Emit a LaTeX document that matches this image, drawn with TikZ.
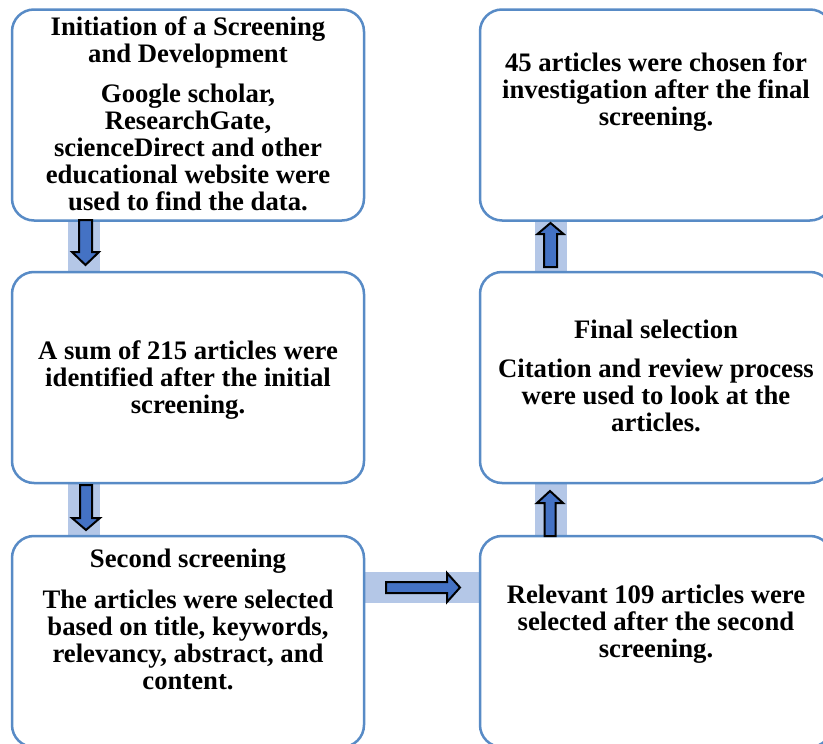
\documentclass[tikz,border=0pt]{standalone}
\usepackage{fontspec}
\setmainfont{Liberation Serif}
\usetikzlibrary{calc}
\definecolor{boxblue}{RGB}{88,139,198}
\definecolor{bandblue}{RGB}{180,199,231}
\definecolor{arrowblue}{RGB}{68,114,196}
\newcommand\myblockarrow[6]{% #1 centre, #2 rotation, #3 length, #4 half shaft, #5 half head, #6 head length
  \draw[barrow,shift={(#1)},rotate=#2]
    ({-(#3)/2},{-(#4)}) -- ({(#3)/2-(#6)},{-(#4)}) -- ({(#3)/2-(#6)},{-(#5)})
    -- ({(#3)/2},0) -- ({(#3)/2-(#6)},{#5}) -- ({(#3)/2-(#6)},{#4}) -- ({-(#3)/2},{#4}) -- cycle;}
\begin{document}
\begin{tikzpicture}[x=1pt,y=-1pt,
  stage/.style={draw=boxblue,line width=2.5pt,rounded corners=22pt,fill=white,
    minimum width=352pt,minimum height=211pt,inner sep=0pt},
  txt/.style={font=\bfseries\fontsize{26.7}{27}\selectfont,align=center,inner sep=0pt,anchor=base},
  band/.style={fill=bandblue,draw=none,inner sep=0pt},
  barrow/.style={fill=arrowblue,draw=black,line width=2pt,line join=miter}]
\useasboundingbox (0,0) rectangle (823,744);
\clip (0,0) rectangle (823,744);
% bands
\node[band,minimum width=32pt,minimum height=54pt] (band1) at (84,246) {};
\node[band,minimum width=32pt,minimum height=54pt] (band2) at (84,509.5) {};
\node[band,minimum width=118pt,minimum height=31pt] (band3) at (422,587.5) {};
\node[band,minimum width=32pt,minimum height=54pt] (band4) at (551,246) {};
\node[band,minimum width=32pt,minimum height=54pt] (band5) at (551,509.5) {};
% boxes
\node[stage] (b1) at (188,115) {};
\node[stage] (b2) at (188,377.5) {};
\node[stage] (b3) at (188,641.5) {};
\node[stage] (b4) at (656,641.5) {};
\node[stage] (b5) at (656,377.5) {};
\node[stage] (b6) at (656,115) {};
% block arrows
\myblockarrow{85.5,242.5}{-90}{45}{6.5}{13.5}{13}
\myblockarrow{86,507.5}{-90}{45}{6}{14}{12}
\myblockarrow{423,587.5}{0}{74}{5.5}{14.5}{13}
\myblockarrow{550.5,245}{90}{44}{6.5}{13}{11}
\myblockarrow{550,513.5}{90}{45}{5.5}{13}{12}
% texts (anchor = baseline of the last line)
\node[txt] (t1) at (188,210) {Initiation of a Screening\\and Development\\[13pt]Google scholar,\\ResearchGate,\\scienceDirect and other\\educational website were\\used to find the data.};
\node[txt] (t2) at (188,413) {A sum of 215 articles were\\identified after the initial\\screening.};
\node[txt] (t3) at (188,689) {Second screening\\[14pt]The articles were selected\\based on title, keywords,\\relevancy, abstract, and\\content.};
\node[txt] (t4) at (656,657) {Relevant 109 articles were\\selected after the second\\screening.};
\node[txt] (t5) at (656,431) {Final selection\\[12pt]Citation and review process\\were used to look at the\\articles.};
\node[txt] (t6) at (656,125) {45 articles were chosen for\\investigation after the final\\screening.};
\end{tikzpicture}
\end{document}
